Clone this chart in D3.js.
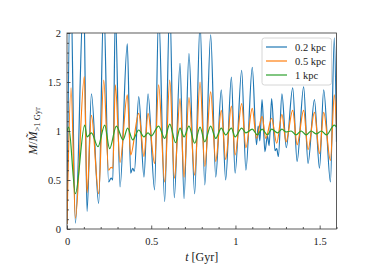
<!DOCTYPE html>
<html>
<head>
<meta charset="utf-8">
<script src="https://cdn.jsdelivr.net/npm/d3@7"></script>
<style>
  body { margin: 0; background: #fff; }
  svg text { font-family: "Liberation Serif", "DejaVu Serif", serif !important; fill: #222; }
</style>
</head>
<body>
<div id="chart"></div>
<script>
// 0.2 kpc
const t02 = [0, 0.021, 0.05, 0.099, 0.119, 0.145, 0.188, 0.218, 0.247, 0.262,
  0.272, 0.287, 0.315, 0.358, 0.378, 0.39, 0.40, 0.426, 0.457, 0.481,
  0.52, 0.544, 0.58, 0.61, 0.637, 0.671, 0.695, 0.724, 0.758, 0.79,
  0.818, 0.853, 0.883, 0.916, 0.942, 0.976, 0.998, 1.037, 1.062, 1.100,
  1.125, 1.135, 1.145, 1.158, 1.175, 1.19, 1.20, 1.215, 1.235, 1.245,
  1.255, 1.276, 1.302, 1.34, 1.366, 1.405, 1.431, 1.469, 1.499, 1.524,
  1.564, 1.587, 1.6];
const m02 = [0.05, 2.6, 0.06, 2.4, 0.18, 1.38, 0.26, 2.3, 0.48, 0.52,
  0.5, 2.2, 0.43, 1.89, 0.57, 0.62, 0.59, 1.35, 0.53, 1.38,
  0.40, 2.2, 0.28, 2.3, 0.32, 1.69, 0.31, 1.79, 0.36, 2.1,
  0.45, 1.98, 0.53, 1.42, 0.50, 1.55, 0.57, 1.62, 0.60, 1.65,
  0.86, 1.05, 0.90, 1.32, 0.79, 0.95, 0.85, 1.33, 0.80, 0.82,
  0.74, 1.38, 0.83, 1.44, 0.69, 1.45, 0.67, 1.32, 0.62, 1.42,
  0.48, 1.95, 0.89];

// 0.5 kpc
const t05 = [0, 0.024, 0.05, 0.103, 0.119, 0.145, 0.188, 0.218, 0.247, 0.262,
  0.272, 0.287, 0.315, 0.358, 0.378, 0.426, 0.457, 0.481, 0.52, 0.544,
  0.58, 0.61, 0.638, 0.671, 0.695, 0.724, 0.758, 0.79, 0.818, 0.853,
  0.883, 0.916, 0.942, 0.976, 0.998, 1.037, 1.062, 1.100, 1.125, 1.158,
  1.18, 1.215, 1.245, 1.276, 1.30, 1.34, 1.366, 1.405, 1.431, 1.469,
  1.499, 1.524, 1.564, 1.587, 1.6];
const m05 = [0.05, 1.44, 0.11, 1.555, 0.37, 1.16, 0.36, 1.52, 0.60, 0.63,
  0.62, 1.47, 0.68, 1.37, 0.755, 1.18, 0.74, 1.18, 0.67, 1.47,
  0.48, 1.52, 0.52, 1.33, 0.53, 1.34, 0.55, 1.50, 0.64, 1.40,
  0.69, 1.21, 0.71, 1.255, 0.755, 1.28, 0.83, 1.23, 0.925, 1.15,
  0.925, 1.13, 0.875, 1.17, 0.89, 1.21, 0.86, 1.21, 0.81, 1.19,
  0.77, 1.19, 0.70, 1.37, 1.05];

// 1 kpc
const t1 = [0, 0.01, 0.05, 0.105, 0.119, 0.145, 0.184, 0.224, 0.253, 0.293,
  0.333, 0.36, 0.39, 0.426, 0.457, 0.481, 0.50, 0.544, 0.58, 0.61,
  0.645, 0.671, 0.695, 0.724, 0.758, 0.79, 0.818, 0.853, 0.883, 0.916,
  0.942, 0.976, 0.998, 1.037, 1.062, 1.100, 1.13, 1.158, 1.19, 1.215,
  1.25, 1.276, 1.30, 1.33, 1.36, 1.39, 1.42, 1.45, 1.48, 1.51,
  1.54, 1.587, 1.6];
const m1 = [1.0, 1.04, 0.36, 1.06, 0.94, 0.98, 0.84, 1.06, 0.82, 1.05,
  0.91, 1.03, 0.91, 1.01, 0.94, 0.98, 0.95, 1.05, 0.925, 1.07,
  0.88, 1.03, 0.94, 1.05, 0.875, 1.04, 0.89, 1.05, 0.925, 1.03,
  0.96, 1.03, 0.94, 1.03, 0.98, 1.02, 0.96, 1.02, 0.96, 1.02,
  0.98, 1.02, 0.99, 1.00, 0.96, 1.00, 0.96, 1.00, 0.97, 1.00,
  0.96, 1.06, 1.04];

const seriesNames = ["0.2 kpc", "0.5 kpc", "1 kpc"];
const seriesColors = ["#1f77b4", "#ff7f0e", "#2ca02c"];
const xTicks = [0, 0.5, 1, 1.5];
const xTickLabels = ["0", "0.5", "1", "1.5"];
const yTicks = [0, 0.5, 1, 1.5, 2];
const yTickLabels = ["0", "0.5", "1", "1.5", "2"];

const width = 374, height = 280;
const margin = { left: 67, right: 37.5, top: 33, bottom: 51 };
const iw = width - margin.left - margin.right;
const ih = height - margin.top - margin.bottom;

const svg = d3.select("#chart").append("svg")
  .attr("width", width)
  .attr("height", height);

const x = d3.scaleLinear().domain([0, 1.6]).range([0, iw]);
const y = d3.scaleLinear().domain([0, 2]).range([ih, 0]);

const g = svg.append("g").attr("transform", `translate(${margin.left},${margin.top})`);

g.append("clipPath").attr("id", "plot-clip")
  .append("rect").attr("width", iw).attr("height", ih);

const series = [d3.zip(t02, m02), d3.zip(t05, m05), d3.zip(t1, m1)];

const line = d3.line()
  .x(d => x(d[0]))
  .y(d => y(d[1]))
  .curve(d3.curveMonotoneX);

g.append("g").attr("clip-path", "url(#plot-clip)")
  .selectAll("path")
  .data(series)
  .enter()
  .append("path")
  .attr("d", line)
  .attr("fill", "none")
  .attr("stroke", (d, i) => seriesColors[i])
  .attr("stroke-width", 1.2)
  .attr("stroke-linejoin", "round");

// axes, ticks pointing inward
const isMinor = v => Math.abs(v * 2 - Math.round(v * 2)) > 1e-6;
g.append("g").attr("transform", `translate(0,${ih})`)
  .call(d3.axisBottom(x).tickValues(xTicks).tickSize(-3.5).tickPadding(9)
    .tickFormat((d, i) => xTickLabels[i]));
g.append("g").attr("transform", `translate(0,${ih})`)
  .call(d3.axisBottom(x).tickValues(d3.range(0, 1.61, 0.1).filter(isMinor))
    .tickSize(-2).tickFormat(""));
g.append("g")
  .call(d3.axisLeft(y).tickValues(yTicks).tickSize(-3.5).tickPadding(6)
    .tickFormat((d, i) => yTickLabels[i]));
g.append("g")
  .call(d3.axisLeft(y).tickValues(d3.range(0, 2.01, 0.1).filter(isMinor))
    .tickSize(-2).tickFormat(""));

g.selectAll(".domain").remove();
g.selectAll(".tick line").attr("stroke", "#333").attr("stroke-width", 0.8);
g.selectAll(".tick text").attr("font-size", 10.5).attr("fill", "#222");

// frame
g.append("rect")
  .attr("width", iw).attr("height", ih)
  .attr("fill", "none").attr("stroke", "#333").attr("stroke-width", 0.8);

// axis labels
const xl = svg.append("text")
  .attr("x", margin.left + iw / 2)
  .attr("y", 261)
  .attr("text-anchor", "middle")
  .attr("font-size", 12);
xl.append("tspan").attr("font-style", "italic").text("t");
xl.append("tspan").text(" [Gyr]");

const yl = svg.append("text")
  .attr("transform", `translate(37,${margin.top + ih / 2}) rotate(-90)`)
  .attr("text-anchor", "middle")
  .attr("font-size", 12);
yl.append("tspan").attr("font-style", "italic").text("M");
yl.append("tspan").text("/");
yl.append("tspan").attr("font-style", "italic").text("M\u0303");
yl.append("tspan").attr("font-size", 8.5).attr("dy", 2.5).text(">1 Gyr");

// legend
const legend = svg.append("g").attr("transform", "translate(262,38)");
legend.append("rect")
  .attr("width", 69.5).attr("height", 47)
  .attr("rx", 2.5)
  .attr("fill", "#fff").attr("fill-opacity", 0.8)
  .attr("stroke", "#ccc").attr("stroke-width", 0.8);
seriesNames.forEach((name, i) => {
  const row = legend.append("g").attr("transform", `translate(0,${9 + i * 14})`);
  row.append("line")
    .attr("x1", 4).attr("x2", 25)
    .attr("stroke", seriesColors[i]).attr("stroke-width", 1.2);
  row.append("text")
    .attr("x", 33).attr("y", 3.5)
    .attr("font-size", 10.5)
    .text(name);
});
</script>
</body>
</html>
